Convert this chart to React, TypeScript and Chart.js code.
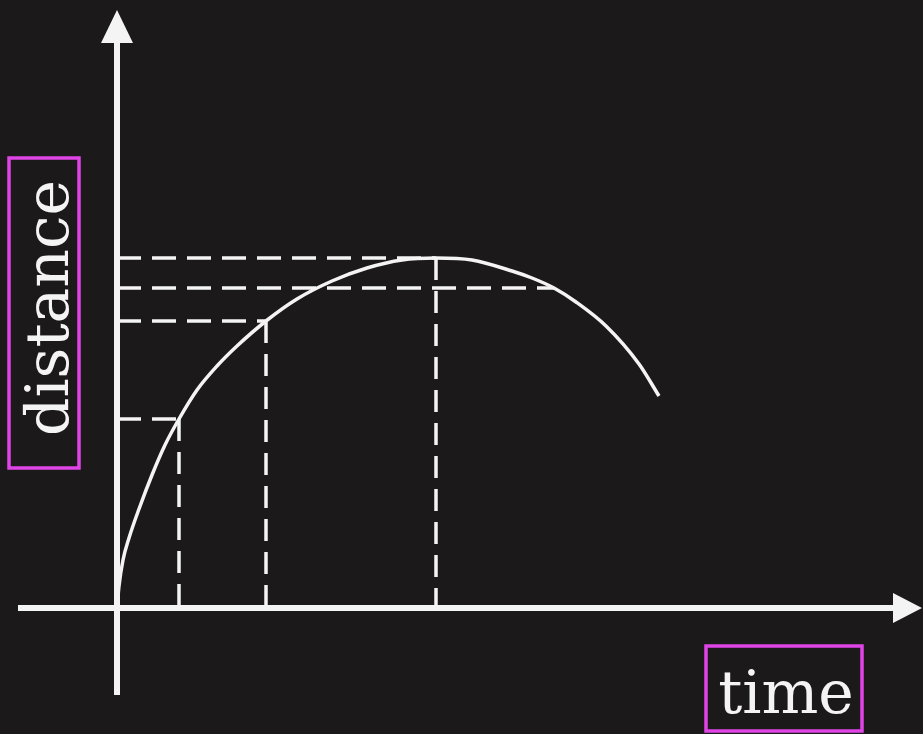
import React, { useEffect, useRef } from "react";
import { Chart, registerables } from "chart.js";

Chart.register(...registerables);

// Curve: distance against time (arbitrary units)
const curveTime = [0, 0.2, 0.6, 1.2, 2.2, 3.5, 4.8, 6.2, 8.0, 10.0, 12.0, 14.9, 18.0, 21.5, 25.0, 28.5, 31.9, 35.5, 39.5, 41.5, 43.7, 45.9, 48.9, 52.2, 54.2];
const curveDistance = [0, 2.2, 4.8, 7.0, 9.9, 13.3, 16.3, 18.9, 21.8, 24.2, 26.2, 28.7, 30.9, 32.7, 34.0, 34.8, 35.0, 34.8, 33.7, 33.0, 32.0, 30.6, 28.2, 24.4, 21.2];

// Dashed guide lines
const guideTime = [6.2, 14.9, 31.9, 43.7];
const guideDistance = [18.9, 28.7, 35.0, 32.0];
const guideVertical = [true, true, true, false];

// Axis extents (data units)
const xRange = [-11.7, 80.6];
const yRange = [-12.6, 60.8];
const xAxisStart = -9.9;
const xAxisTip = 80.5;
const yAxisStart = -8.7;
const yAxisTip = 59.8;

const xLabel = "time";
const yLabel = "distance";

const BG = "#1b1919";
const FG = "#f4f4f4";
const BOX = "#e044e6";

export default function App() {
  const ref = useRef<HTMLCanvasElement | null>(null);

  useEffect(() => {
    if (!ref.current) return;

    const guideSets: any[] = [];
    guideTime.forEach((t, i) => {
      const d = guideDistance[i];
      guideSets.push({
        data: [{ x: 0, y: d }, { x: t, y: d }],
        borderColor: FG,
        borderWidth: 3.5,
        borderDash: [24, 11],
        pointRadius: 0,
        tension: 0,
      });
      if (guideVertical[i]) {
        guideSets.push({
          data: [{ x: t, y: d }, { x: t, y: 0 }],
          borderColor: FG,
          borderWidth: 3.5,
          borderDash: [22, 11],
          pointRadius: 0,
          tension: 0,
        });
      }
    });

    const axesPlugin = {
      id: "axesPlugin",
      beforeDraw(chart: any) {
        const c = chart.ctx;
        c.save();
        c.fillStyle = BG;
        c.fillRect(0, 0, chart.width, chart.height);
        c.restore();
      },
      beforeDatasetsDraw(chart: any) {
        const c = chart.ctx;
        const xs = chart.scales.x;
        const ys = chart.scales.y;
        const ox = xs.getPixelForValue(0);
        const oy = ys.getPixelForValue(0);
        const xl = xs.getPixelForValue(xAxisStart);
        const xt = xs.getPixelForValue(xAxisTip);
        const yb = ys.getPixelForValue(yAxisStart);
        const yt = ys.getPixelForValue(yAxisTip);
        c.save();
        c.strokeStyle = FG;
        c.fillStyle = FG;
        c.lineWidth = 6;
        c.lineCap = "butt";
        // x axis
        c.beginPath();
        c.moveTo(xl, oy);
        c.lineTo(xt - 20, oy);
        c.stroke();
        c.beginPath();
        c.moveTo(xt, oy);
        c.lineTo(xt - 29, oy - 15);
        c.lineTo(xt - 29, oy + 15);
        c.closePath();
        c.fill();
        // y axis
        c.beginPath();
        c.moveTo(ox, yb);
        c.lineTo(ox, yt + 20);
        c.stroke();
        c.beginPath();
        c.moveTo(ox, yt);
        c.lineTo(ox - 16, yt + 33);
        c.lineTo(ox + 16, yt + 33);
        c.closePath();
        c.fill();
        c.restore();
      },
      afterDraw(chart: any) {
        const c = chart.ctx;
        c.save();
        c.font = '60px "DejaVu Serif"';
        c.fillStyle = FG;
        c.strokeStyle = BOX;
        c.lineWidth = 3.5;
        // time label
        c.strokeRect(706, 646, 156, 85);
        c.textAlign = "center";
        c.textBaseline = "alphabetic";
        c.fillText(xLabel, 786, 713);
        // distance label
        c.strokeRect(9, 158, 70, 310);
        c.translate(68, 308);
        c.rotate(-Math.PI / 2);
        c.fillText(yLabel, 0, 0);
        c.restore();
      },
    };

    const chart = new Chart(ref.current, {
      type: "line",
      data: {
        datasets: [
          {
            data: curveTime.map((t, i) => ({ x: t, y: curveDistance[i] })),
            borderColor: FG,
            borderWidth: 3.5,
            pointRadius: 0,
            cubicInterpolationMode: "monotone",
          } as any,
          ...guideSets,
        ],
      },
      options: {
        animation: false,
        responsive: false,
        maintainAspectRatio: false,
        layout: { padding: 0, autoPadding: false } as any,
        plugins: { legend: { display: false }, tooltip: { enabled: false }, title: { display: false } },
        scales: {
          x: { type: "linear", min: xRange[0], max: xRange[1], display: false },
          y: { type: "linear", min: yRange[0], max: yRange[1], display: false },
        },
        elements: { line: { borderCapStyle: "butt" } },
      },
      plugins: [axesPlugin],
    });

    return () => chart.destroy();
  }, []);

  return (
    <div style={{ position: "fixed", left: 0, top: 0, width: 923, height: 734, background: BG }}>
      <canvas ref={ref} width={923} height={734} style={{ display: "block" }} />
    </div>
  );
}
